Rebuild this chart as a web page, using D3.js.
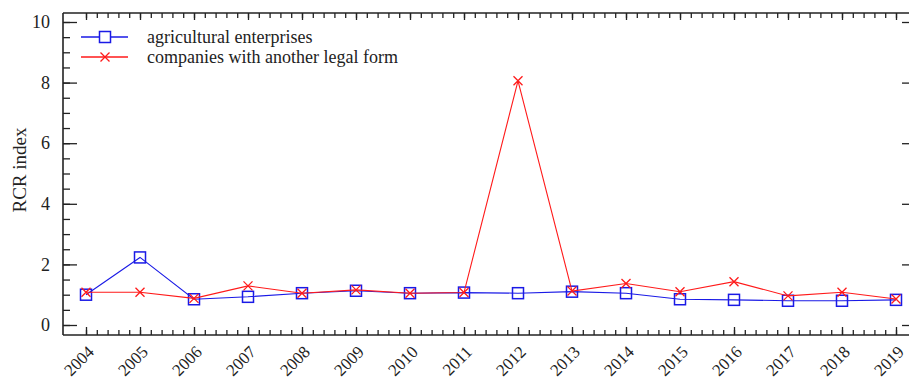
<!DOCTYPE html>
<html>
<head>
<meta charset="utf-8">
<script src="https://cdn.jsdelivr.net/npm/d3@7"></script>
<style>
  html, body { margin: 0; padding: 0; background: #fff; }
  svg { display: block; }
  .serif { font-family: "Liberation Serif", "Times New Roman", serif; fill: #222; }
</style>
</head>
<body>
<svg id="chart" width="909" height="381"></svg>
<script>
// Revealed comparative advantage (RCR) index by year
const years = [2004, 2005, 2006, 2007, 2008, 2009, 2010, 2011, 2012, 2013, 2014, 2015, 2016, 2017, 2018, 2019];
const agricultural = [1.0, 2.23, 0.85, 0.93, 1.05, 1.13, 1.05, 1.07, 1.05, 1.1, 1.05, 0.85, 0.83, 0.8, 0.8, 0.83];
const otherForms = [1.08, 1.08, 0.88, 1.29, 1.05, 1.16, 1.05, 1.07, 8.06, 1.12, 1.37, 1.1, 1.43, 0.96, 1.08, 0.86];
const yTicks = [0, 2, 4, 6, 8, 10];
const seriesNames = ["agricultural enterprises", "companies with another legal form"];
const yTitle = "RCR index";

const blue = "#1a1ae6";
const red = "#ff1a1a";
const axisColor = "#222";

const svg = d3.select("#chart");

// plot frame
const frameL = 63, frameR = 909, frameT = 13, frameB = 335;

const x = d3.scaleLinear().domain([2004, 2019]).range([86, 896]);
const y = d3.scaleLinear().domain([0, 10]).range([325, 22]);

const minorX = d3.range(2004, 2019.001, 0.2);
const minorY = d3.range(0, 10.001, 0.5);

// bottom axis: ticks point up into the plot
const gBottom = svg.append("g").attr("transform", `translate(0,${frameB})`);
gBottom.call(d3.axisBottom(x).tickValues(minorX).tickSize(-5).tickFormat(""));
gBottom.append("g").call(d3.axisBottom(x).tickValues(years).tickSize(-8).tickFormat(""));

// top axis: ticks point down
const gTop = svg.append("g").attr("transform", `translate(0,${frameT})`);
gTop.call(d3.axisTop(x).tickValues(minorX).tickSize(-5).tickFormat(""));
gTop.append("g").call(d3.axisTop(x).tickValues(years).tickSize(-7).tickFormat(""));

// left axis: ticks point right, labels on the left
const gLeft = svg.append("g").attr("transform", `translate(${frameL},0)`);
gLeft.call(d3.axisLeft(y).tickValues(minorY).tickSize(-7).tickFormat(""));
gLeft.append("g").call(d3.axisLeft(y).tickValues(yTicks).tickSize(-14).tickPadding(13).tickFormat(d3.format("d")));

// right axis: major ticks only
const gRight = svg.append("g").attr("transform", `translate(${frameR},0)`);
gRight.call(d3.axisRight(y).tickValues(yTicks).tickSize(-7).tickFormat(""));

svg.selectAll(".domain").remove();
svg.selectAll(".tick line").attr("stroke", axisColor).attr("stroke-width", 1.3);
gLeft.selectAll(".tick text")
  .attr("class", "serif")
  .attr("font-family", null)
  .attr("fill", "#222")
  .style("font-size", "18px");

// frame lines
svg.append("line").attr("x1", frameL).attr("x2", frameL).attr("y1", frameT).attr("y2", frameB)
  .attr("stroke", axisColor).attr("stroke-width", 1.6);
svg.append("line").attr("x1", frameL).attr("x2", frameR).attr("y1", frameB).attr("y2", frameB)
  .attr("stroke", axisColor).attr("stroke-width", 1.6);
svg.append("line").attr("x1", frameL).attr("x2", frameR).attr("y1", frameT).attr("y2", frameT)
  .attr("stroke", axisColor).attr("stroke-width", 1.3);

// rotated year labels
svg.append("g").selectAll("text").data(years).join("text")
  .attr("class", "serif")
  .attr("transform", d => `translate(${x(d) + 9},${frameB + 18}) rotate(-45)`)
  .attr("text-anchor", "end")
  .style("font-size", "17px")
  .text(d => d);

// y title
svg.append("text")
  .attr("class", "serif")
  .attr("transform", `translate(26,170) rotate(-90)`)
  .attr("text-anchor", "middle")
  .style("font-size", "19px")
  .text(yTitle);

// series lines
const line = d3.line().x((d, i) => x(years[i])).y(d => y(d));

svg.append("path").datum(agricultural).attr("d", line)
  .attr("fill", "none").attr("stroke", blue).attr("stroke-width", 1.1);

svg.append("g").selectAll("rect").data(agricultural).join("rect")
  .attr("x", (d, i) => x(years[i]) - 5.5).attr("y", d => y(d) - 5.5)
  .attr("width", 11).attr("height", 11)
  .attr("fill", "none").attr("stroke", blue).attr("stroke-width", 1.5);

svg.append("path").datum(otherForms).attr("d", line)
  .attr("fill", "none").attr("stroke", red).attr("stroke-width", 1.1);

const cross = (cx, cy, r) => `M${cx - r},${cy - r}L${cx + r},${cy + r}M${cx - r},${cy + r}L${cx + r},${cy - r}`;
svg.append("g").selectAll("path").data(otherForms).join("path")
  .attr("d", (d, i) => cross(x(years[i]), y(d), 4.5))
  .attr("stroke", red).attr("stroke-width", 1.3).attr("fill", "none");

// legend
const legend = svg.append("g");
const legendY = [37, 57];
const legendColors = [blue, red];
legendY.forEach((ly, i) => {
  legend.append("line").attr("x1", 81).attr("x2", 128).attr("y1", ly).attr("y2", ly)
    .attr("stroke", legendColors[i]).attr("stroke-width", 1.3);
  if (i === 0) {
    legend.append("rect").attr("x", 105 - 5.5).attr("y", ly - 5.5).attr("width", 11).attr("height", 11)
      .attr("fill", "#fff").attr("stroke", blue).attr("stroke-width", 1.5);
  } else {
    legend.append("path").attr("d", cross(105, ly, 4.5))
      .attr("stroke", red).attr("stroke-width", 1.3);
  }
  legend.append("text").attr("class", "serif").attr("x", 147).attr("y", ly + 6)
    .style("font-size", "18px")
    .text(seriesNames[i]);
});
</script>
</body>
</html>
